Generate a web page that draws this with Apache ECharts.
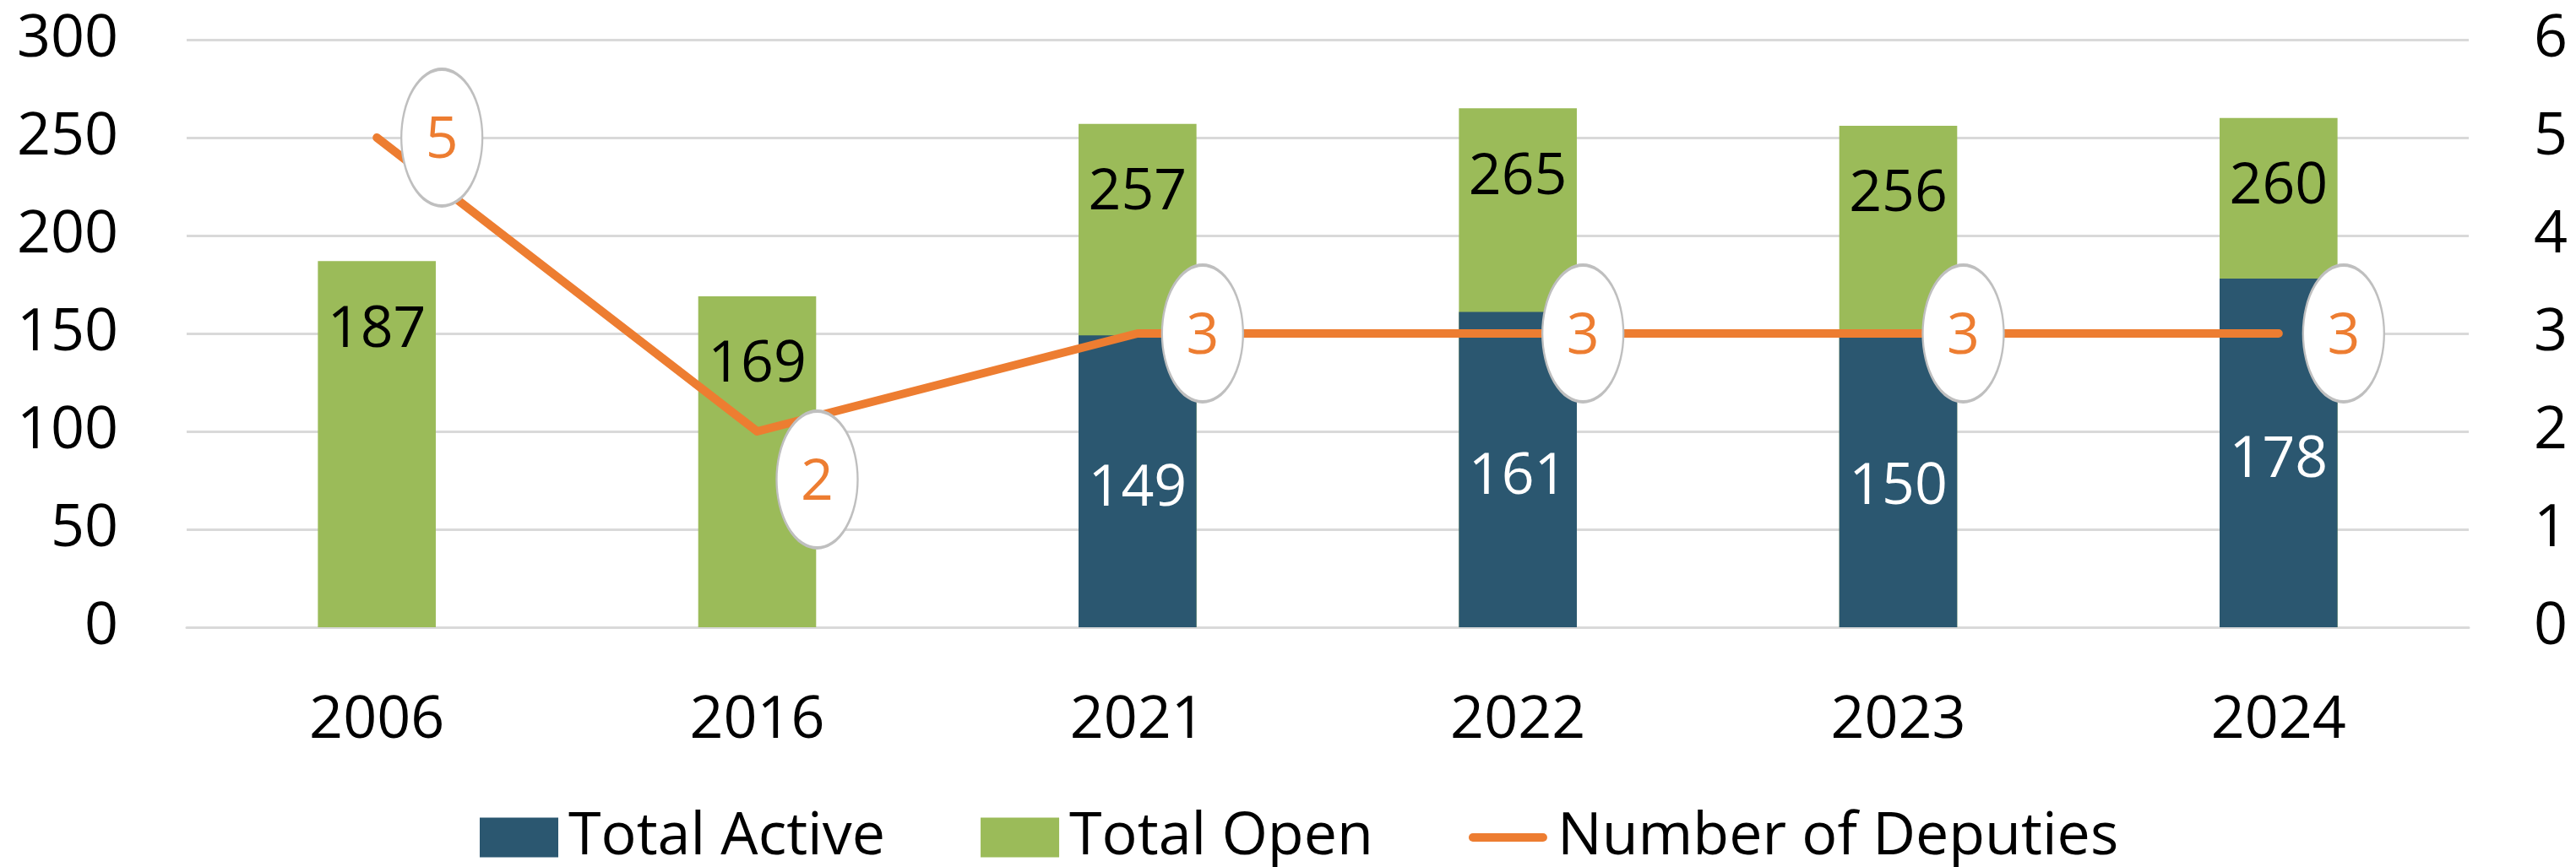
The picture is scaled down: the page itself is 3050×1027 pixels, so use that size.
<!DOCTYPE html>
<html>
<head>
<meta charset="utf-8">
<script src="https://cdn.jsdelivr.net/npm/echarts@6/dist/echarts.min.js"></script>
<style>
html,body{margin:0;padding:0;background:#fff;}
#main{width:3050px;height:1027px;}
</style>
</head>
<body>
<div id="main"></div>
<script>
const categories = ['2006', '2016', '2021', '2022', '2023', '2024'];
const totalActive = [null, null, 149, 161, 150, 178];
const totalOpen = [187, 169, 257, 265, 256, 260];
const deputies = [5, 2, 3, 3, 3, 3];
const leftTicks = [0, 300, 50];
const rightTicks = [0, 6, 1];

const FONT = 'Open Sans';
const FS = 70;
const LFS = 68;
const ORANGE = '#ED7D31';

const chart = echarts.init(document.getElementById('main'), null, {renderer: 'canvas'});

const bubbleData = deputies.map(function (v, i) {
  const item = {value: v};
  if (i === 1) item.symbolOffset = [71, 57];
  return item;
});

chart.setOption({
  animation: false,
  backgroundColor: '#ffffff',
  textStyle: {fontFamily: FONT},
  grid: {left: 221, right: 127, top: 47, bottom: 284, containLabel: false},
  legend: {
    data: [
      {name: 'Total Active', icon: 'rect'},
      {name: 'Total Open', icon: 'rect'},
      {name: 'Number of Deputies', icon: 'path://M5.5,0 H97.5 A5.5,5.5 0 0 1 97.5,11 H5.5 A5.5,5.5 0 0 1 5.5,0 Z'}
    ],
    left: 568,
    top: 957,
    padding: 0,
    itemWidth: 93,
    itemHeight: 47,
    itemGap: 113,
    textStyle: {fontFamily: FONT, fontSize: FS, lineHeight: FS, color: '#000', padding: [0, 0, 0, 7]}
  },
  xAxis: {
    type: 'category',
    data: categories,
    axisLine: {show: true, lineStyle: {color: '#D9D9D9', width: 3}},
    axisTick: {show: false},
    axisLabel: {fontFamily: FONT, fontSize: FS, color: '#000', margin: 76}
  },
  yAxis: [
    {
      type: 'value', min: leftTicks[0], max: leftTicks[1], interval: leftTicks[2],
      axisLine: {show: false}, axisTick: {show: false},
      splitLine: {lineStyle: {color: '#D9D9D9', width: 3}},
      axisLabel: {fontFamily: FONT, fontSize: FS, color: '#000', margin: 81}
    },
    {
      type: 'value', min: rightTicks[0], max: rightTicks[1], interval: rightTicks[2],
      axisLine: {show: false}, axisTick: {show: false},
      splitLine: {show: false},
      axisLabel: {fontFamily: FONT, fontSize: FS, color: '#000', margin: 77}
    }
  ],
  series: [
    {
      name: 'Total Open',
      type: 'bar',
      data: totalOpen,
      barWidth: '31%',
      barGap: '-100%',
      itemStyle: {color: '#9BBB59'},
      z: 2,
      label: {
        show: true, position: 'insideTop', distance: 48,
        fontFamily: FONT, fontSize: LFS, lineHeight: LFS, color: '#000'
      }
    },
    {
      name: 'Total Active',
      type: 'bar',
      data: totalActive,
      barWidth: '31%',
      barGap: '-100%',
      itemStyle: {color: '#2B5770'},
      z: 3,
      label: {
        show: true, position: 'inside', offset: [0, 9],
        fontFamily: FONT, fontSize: LFS, color: '#fff'
      }
    },
    {
      name: 'Number of Deputies',
      type: 'line',
      yAxisIndex: 1,
      data: deputies,
      symbol: 'none',
      lineStyle: {color: ORANGE, width: 10, cap: 'round', join: 'round'},
      itemStyle: {color: ORANGE},
      z: 4
    },
    {
      name: 'bubbles',
      type: 'scatter',
      yAxisIndex: 1,
      data: bubbleData,
      symbol: 'path://M50,0 A50,50 0 1 1 50,100 A50,50 0 1 1 50,0 Z',
      symbolSize: [96, 162],
      symbolOffset: [77, 0],
      itemStyle: {color: '#ffffff', borderColor: '#BFBFBF', borderWidth: 3, opacity: 1},
      z: 5,
      label: {
        show: true, position: 'inside', offset: [0, 5],
        fontFamily: FONT, fontSize: LFS, color: ORANGE
      },
      emphasis: {disabled: true}
    }
  ]
});
</script>
</body>
</html>
